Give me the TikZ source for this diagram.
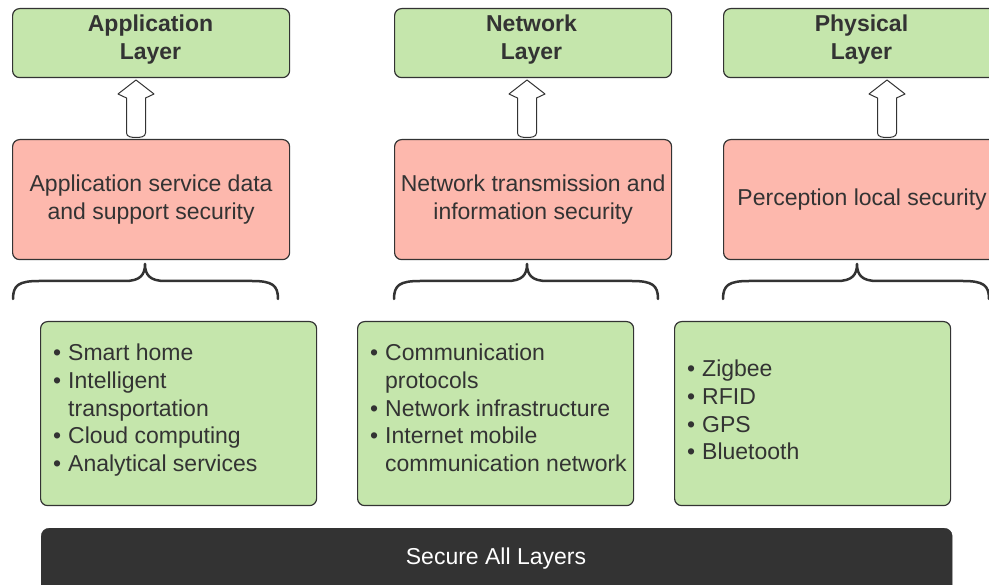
\documentclass[tikz,border=0pt]{standalone}
\usepackage{fontspec}
\setmainfont{Liberation Sans}
\definecolor{boxgreen}{HTML}{C5E6AC}
\definecolor{boxred}{HTML}{FDB8AD}
\definecolor{ink}{HTML}{333333}
\newcommand{\mainsize}{\fontsize{23}{27.7}\selectfont}
\newcommand{\bul}{\makebox[16pt][l]{\hspace{1pt}•}}
\newcommand{\blockarrow}[3]{% centre x, tip y, foot y
  \draw[uparrow] (#1,#2) -- (#1-18,#2+14) -- (#1-9.5,#2+18) -- (#1-9.5,#3-4)
    .. controls (#1-9.5,#3) and (#1-4,#3+0.5) .. (#1,#3+0.5)
    .. controls (#1+4,#3+0.5) and (#1+9.5,#3) .. (#1+9.5,#3-4)
    -- (#1+9.5,#2+18) -- (#1+18,#2+14) -- cycle;}
\newcommand{\curlybrace}[4]{% left x, tip x, right x, bottom y
  \draw[brace] (#1,#4) .. controls (#1,#4-14) and (#1+6,#4-18) .. (#1+26,#4-18)
    -- (#2-20,#4-18) .. controls (#2-5,#4-18) and (#2,#4-24) .. (#2,#4-35)
    .. controls (#2,#4-24) and (#2+5,#4-18) .. (#2+20,#4-18)
    -- (#3-26,#4-18) .. controls (#3-6,#4-18) and (#3,#4-14) .. (#3,#4);}
\tikzset{
  base/.style={draw=ink, line width=1.2pt, rounded corners=7pt, anchor=north west,
    inner sep=0pt, text=ink, font=\mainsize, align=center},
  layerbox/.style={base, fill=boxgreen, minimum width=277pt, minimum height=69pt},
  secbox/.style={base, fill=boxred, minimum width=277pt, minimum height=120pt},
  listbox/.style={base, fill=boxgreen, minimum width=276pt, minimum height=184pt},
  titletext/.style={text=ink, font=\mainsize\bfseries, align=center, inner sep=0pt},
  listtext/.style={text=ink, font=\mainsize, align=left, inner sep=0pt, anchor=north west},
  brace/.style={draw=ink, line width=2.5pt, line cap=round, line join=round},
  uparrow/.style={draw=ink, fill=white, line width=1pt, line join=round},
  bar/.style={fill=ink, draw=ink, rounded corners=8pt, anchor=north west,
    minimum width=911pt, minimum height=80pt, inner sep=0pt},
}
\begin{document}
\begin{tikzpicture}[x=1pt, y=-1pt]
\useasboundingbox (0,0) rectangle (989,585);

% top layer boxes
\node[layerbox] (appL) at (12,8) {};
\node[layerbox] (netL) at (394,8) {};
\node[layerbox] (phyL) at (723,8) {};
\node[titletext] (appT) at (150.5,39.5) {Application\\Layer};
\node[titletext] (netT) at (531.5,39.5) {Network\\Layer};
\node[titletext] (phyT) at (861.5,39.5) {Physical\\Layer};

% security boxes
\node[secbox] (appS) at (12,139) {Application service data\\and support security};
\node[secbox] (netS) at (394,139) {Network transmission and\\information security};
\node[secbox] (phyS) at (723,139) {Perception local security};

% arrows from security boxes to layers
\blockarrow{136}{80}{137}
\blockarrow{527}{80}{137}
\blockarrow{887}{80}{137}

% braces gathering the lists
\curlybrace{13}{145}{278}{299}
\curlybrace{394}{527}{658}{299}
\curlybrace{723}{857}{989}{299}

% lists
\node[listbox] (appB) at (40,321) {};
\node[listbox] (netB) at (357,321) {};
\node[listbox] (phyB) at (674,321) {};
\node[listtext] (appX) at (52,344) {\bul Smart home\\\bul Intelligent\\\hspace*{16pt}transportation\\\bul Cloud computing\\\bul Analytical services};
\node[listtext] (netX) at (369,344) {\bul Communication\\\hspace*{16pt}protocols\\\bul Network infrastructure\\\bul Internet mobile\\\hspace*{16pt}communication network};
\node[listtext] (phyX) at (686,360) {\bul Zigbee\\\bul RFID\\\bul GPS\\\bul Bluetooth};

% base bar
\node[bar] (all) at (41,528) {};
\node[text=white, font=\mainsize, inner sep=0pt] (allT) at (496,558.5) {Secure All Layers};
\end{tikzpicture}
\end{document}
